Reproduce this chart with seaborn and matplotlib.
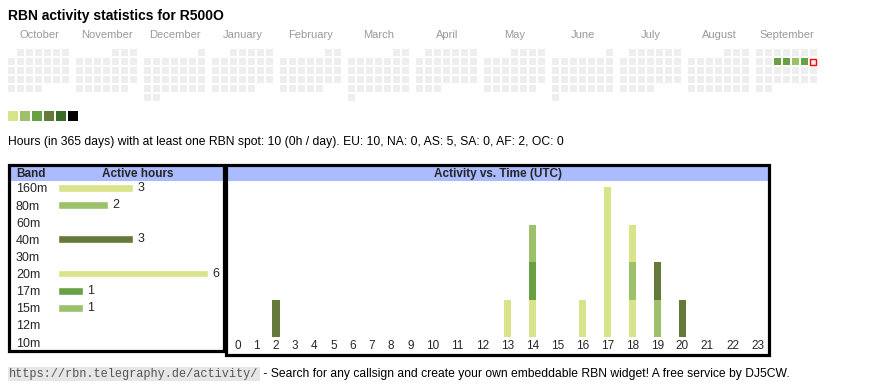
import datetime as dt
import calendar
import numpy as np
import pandas as pd
import matplotlib
matplotlib.use("Agg")
import matplotlib.pyplot as plt
from matplotlib.patches import Rectangle
from matplotlib import font_manager as fm
import seaborn as sns

# ---------------- data ----------------
callsign = "R500O"
months = ["October", "November", "December", "January", "February", "March",
          "April", "May", "June", "July", "August", "September"]
month_years = [2024, 2024, 2024, 2025, 2025, 2025, 2025, 2025, 2025, 2025, 2025, 2025]
month_nums = [10, 11, 12, 1, 2, 3, 4, 5, 6, 7, 8, 9]
active_dates = ["2025-09-10", "2025-09-11", "2025-09-12", "2025-09-13"]
active_levels = [3, 3, 2, 3]
today = "2025-09-14"

level_colors = ["#d9e38a", "#9dc16a", "#68a044", "#64793a", "#3a6a28", "#000000"]

bands = ["160m", "80m", "60m", "40m", "30m", "20m", "17m", "15m", "12m", "10m"]
band_colors = ["#d9e38a", "#9dc16a", "#cccccc", "#64793a", "#cccccc",
               "#d9e38a", "#68a044", "#9dc16a", "#cccccc", "#cccccc"]
hours = list(range(24))
h_160m = [0, 0, 0, 0, 0, 0, 0, 0, 0, 0, 0, 0, 0, 1, 1, 0, 0, 0, 1, 0, 0, 0, 0, 0]
h_80m  = [0, 0, 0, 0, 0, 0, 0, 0, 0, 0, 0, 0, 0, 0, 0, 0, 0, 0, 1, 1, 0, 0, 0, 0]
h_60m  = [0] * 24
h_40m  = [0, 0, 1, 0, 0, 0, 0, 0, 0, 0, 0, 0, 0, 0, 0, 0, 0, 0, 0, 1, 1, 0, 0, 0]
h_30m  = [0] * 24
h_20m  = [0, 0, 0, 0, 0, 0, 0, 0, 0, 0, 0, 0, 0, 0, 0, 0, 1, 4, 1, 0, 0, 0, 0, 0]
h_17m  = [0, 0, 0, 0, 0, 0, 0, 0, 0, 0, 0, 0, 0, 0, 1, 0, 0, 0, 0, 0, 0, 0, 0, 0]
h_15m  = [0, 0, 0, 0, 0, 0, 0, 0, 0, 0, 0, 0, 0, 0, 1, 0, 0, 0, 0, 0, 0, 0, 0, 0]
h_12m  = [0] * 24
h_10m  = [0] * 24
stats_text = ("Hours (in 365 days) with at least one RBN spot: 10 (0h / day). "
              "EU: 10, NA: 0, AS: 5, SA: 0, AF: 2, OC: 0")
footer_url = "https://rbn.telegraphy.de/activity/"
footer_text = " - Search for any callsign and create your own embeddable RBN widget! A free service by DJ5CW."

hour_table = pd.DataFrame([h_160m, h_80m, h_60m, h_40m, h_30m, h_20m, h_17m,
                           h_15m, h_12m, h_10m], index=bands, columns=hours)
band_hours = hour_table.sum(axis=1)

# ---------------- style ----------------
sns.set_theme(style="white")
plt.rcParams["font.family"] = ["Liberation Sans", "DejaVu Sans"]
installed = {f.name for f in fm.fontManager.ttflist}
narrow = "Liberation Sans Narrow" if "Liberation Sans Narrow" in installed else None

W, H = 870, 390
fig = plt.figure(figsize=(W / 100, H / 100), dpi=100)
fig.patch.set_facecolor("white")


def px_axes(l, t, r, b, **kw):
    return fig.add_axes([l / W, 1 - b / H, (r - l) / W, (b - t) / H], **kw)


ov = px_axes(0, 0, W, H)
ov.set_xlim(0, W)
ov.set_ylim(H, 0)
ov.axis("off")
ov.patch.set_alpha(0)
ov.set_zorder(10)

# title
ov.text(8, 16, f"RBN activity statistics for {callsign}", fontsize=10,
        fontweight="bold", va="center", ha="left", color="#000")

# calendar
active_map = {pd.Timestamp(d).date(): lv for d, lv in zip(active_dates, active_levels)}
today_d = pd.Timestamp(today).date()
pitch, cell = 9, 7
for mi, (mname, yy, mm) in enumerate(zip(months, month_years, month_nums)):
    x0 = 8 + 68 * mi
    ov.text(x0 + 31, 35, mname, fontsize=8, color="#999999", ha="center", va="center")
    first_wd = dt.date(yy, mm, 1).weekday()
    ndays = calendar.monthrange(yy, mm)[1]
    for d in range(1, ndays + 1):
        date = dt.date(yy, mm, d)
        col = date.weekday()
        row = (d - 1 + first_wd) // 7
        x = x0 + pitch * col
        y = 49 + pitch * row
        lv = active_map.get(date)
        fc = level_colors[lv - 1] if lv else "#eeeeee"
        if date == today_d:
            ov.add_patch(Rectangle((x + 0.5, y + 0.5), cell - 1, cell - 1, facecolor="#eeeeee",
                                   edgecolor="red", lw=1.0))
        else:
            ov.add_patch(Rectangle((x, y), cell, cell, facecolor=fc, edgecolor="none"))

# legend
for i, c in enumerate(level_colors):
    ov.add_patch(Rectangle((8 + 12 * i, 111), 10, 10, facecolor=c, edgecolor="none"))

ov.text(8, 142, stats_text, fontsize=8.75, ha="left", va="center", color="#000")

# frames and headers
ov.add_patch(Rectangle((10, 166), 213, 15, facecolor="#aabbff", edgecolor="none", zorder=1))
ov.add_patch(Rectangle((228, 166), 540, 15, facecolor="#aabbff", edgecolor="none", zorder=1))
ov.add_patch(Rectangle((9.5, 164.5), 214.5, 186.5, facecolor="none", edgecolor="black", lw=2.3, zorder=3))
ov.add_patch(Rectangle((226, 164.5), 543.5, 190, facecolor="none", edgecolor="black", lw=2.3, zorder=3))
ov.text(16, 174, "Band", fontsize=8.5, fontweight="bold", ha="left", va="center", zorder=4)
ov.text(138, 174, "Active hours", fontsize=8.5, fontweight="bold", ha="center", va="center", zorder=4)
ov.text(498, 174, "Activity vs. Time (UTC)", fontsize=8.5, fontweight="bold",
        ha="center", va="center", zorder=4)

# footer
ov.add_patch(Rectangle((8, 367), 252, 14, facecolor="#e6e6e6", edgecolor="none"))
ov.text(9, 374.5, footer_url, fontsize=8.6, family=["Liberation Mono", "DejaVu Sans Mono"],
        color="#555555", ha="left", va="center")
if narrow:
    ov.text(260, 374.5, footer_text, fontsize=9, family=[narrow, "Liberation Sans"],
            ha="left", va="center", color="#000")
else:
    ov.text(260, 374.5, footer_text, fontsize=8.7, ha="left", va="center", color="#000")

# band chart
axb = px_axes(58, 179.4, 222, 350.6)
axb.patch.set_alpha(0)
bdf = pd.DataFrame({"band": bands, "hours": band_hours.values})
sns.barplot(data=bdf, x="hours", y="band", hue="band", palette=band_colors,
            order=bands, hue_order=bands, width=0.45, legend=False, ax=axb,
            saturation=1)
axb.set_xlim(0, (222 - 58) / 25)
axb.set_ylim(9.5, -0.5)
for c in axb.containers:
    vals = [b.get_width() for b in c]
    axb.bar_label(c, labels=[f"{int(v)}" if v > 0 else "" for v in vals],
                  padding=3, fontsize=9)
axb.set_xlabel("")
axb.set_ylabel("")
axb.set_xticks([])
axb.set_yticks(range(len(bands)))
axb.set_yticklabels(bands, ha="left", fontsize=9)
axb.tick_params(axis="y", length=0, pad=(58 - 16) * 0.72)
for s in axb.spines.values():
    s.set_visible(False)

# hour chart: table-like columns, one-digit columns narrower than two-digit ones
col_w = np.array([19.2 if h < 10 else 25.0 for h in hours])
col_x = np.cumsum(col_w) - col_w / 2
axh = px_axes(228, 181, 228 + col_w.sum(), 337)
axh.patch.set_alpha(0)
bottom = np.zeros(24)
for band, color in zip(bands, band_colors):
    vals = hour_table.loc[band].values.astype(float)
    if vals.sum() == 0:
        continue
    axh.bar(col_x, vals, bottom=bottom, width=7.5, color=color, edgecolor="none")
    bottom += vals
axh.set_xlim(0, col_w.sum())
axh.set_ylim(0, (337 - 181) / 37.5)
axh.set_xticks(col_x)
axh.set_xticklabels([str(h) for h in hours], fontsize=8.5)
axh.tick_params(axis="x", length=0, pad=2.5)
axh.set_yticks([])
for s in axh.spines.values():
    s.set_visible(False)

fig.savefig("out.png", dpi=100, facecolor="white")
